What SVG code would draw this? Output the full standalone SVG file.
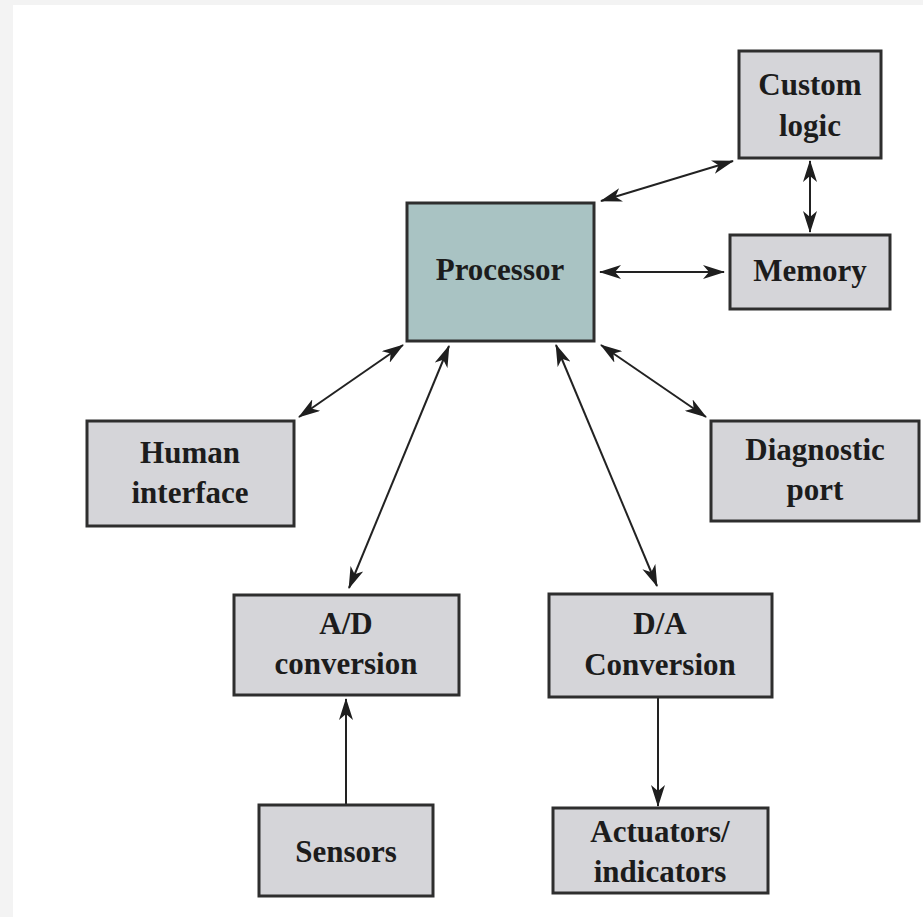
<svg xmlns="http://www.w3.org/2000/svg" width="923" height="917" viewBox="0 0 923 917">
  <defs>
    <marker id="arrow" viewBox="0 0 22 14" markerWidth="22" markerHeight="14" refX="21" refY="7" markerUnits="userSpaceOnUse" orient="auto-start-reverse">
      <path d="M0,0 L22,7 L0,14 L6,7 z" fill="#1e1e1e"/>
    </marker>
  </defs>
  <style>
    .box { fill: #d5d5d9; stroke: #2e2e2e; stroke-width: 3; }
    .cpu { fill: #a9c3c3; stroke: #2e2e2e; stroke-width: 3; }
    .lbl { font-family: "Liberation Serif", "Times New Roman", serif; font-weight: bold; font-size: 31px; fill: #1c1c1c; text-anchor: middle; }
    .link { stroke: #222; stroke-width: 2; fill: none; }
    .both { marker-start: url(#arrow); marker-end: url(#arrow); }
    .fwd { marker-end: url(#arrow); }
  </style>

  <!-- page background -->
  <rect x="0" y="0" width="923" height="917" fill="#f3f3f3"/>
  <rect x="13" y="5" width="910" height="912" fill="#ffffff"/>

  <g id="connectors">
    <line class="link both" x1="601" y1="201" x2="733" y2="161"/>
    <line class="link both" x1="810" y1="161" x2="810" y2="232"/>
    <line class="link both" x1="600" y1="272" x2="724" y2="272"/>
    <line class="link both" x1="403" y1="345" x2="299" y2="417"/>
    <line class="link both" x1="449" y1="346" x2="349" y2="588"/>
    <line class="link both" x1="556" y1="345" x2="657" y2="586"/>
    <line class="link both" x1="601" y1="345" x2="706" y2="417"/>
    <line class="link fwd" x1="346" y1="804" x2="346" y2="699"/>
    <line class="link fwd" x1="658" y1="698" x2="658" y2="806"/>
  </g>

  <g id="custom-logic">
    <rect class="box" x="739" y="51" width="142" height="107"/>
    <text class="lbl" x="810" y="95">Custom</text>
    <text class="lbl" x="810" y="136">logic</text>
  </g>

  <g id="memory">
    <rect class="box" x="730" y="235" width="160" height="74"/>
    <text class="lbl" x="810" y="281">Memory</text>
  </g>

  <g id="processor">
    <rect class="cpu" x="407" y="203" width="187" height="138"/>
    <text class="lbl" x="500" y="280">Processor</text>
  </g>

  <g id="human-interface">
    <rect class="box" x="87" y="421" width="207" height="105"/>
    <text class="lbl" x="190" y="463">Human</text>
    <text class="lbl" x="190" y="503">interface</text>
  </g>

  <g id="diagnostic-port">
    <rect class="box" x="711" y="421" width="208" height="100"/>
    <text class="lbl" x="815" y="460">Diagnostic</text>
    <text class="lbl" x="815" y="500">port</text>
  </g>

  <g id="ad-conversion">
    <rect class="box" x="234" y="595" width="225" height="100"/>
    <text class="lbl" x="346" y="634">A/D</text>
    <text class="lbl" x="346" y="674">conversion</text>
  </g>

  <g id="da-conversion">
    <rect class="box" x="549" y="594" width="223" height="103"/>
    <text class="lbl" x="660" y="634">D/A</text>
    <text class="lbl" x="660" y="675">Conversion</text>
  </g>

  <g id="sensors">
    <rect class="box" x="259" y="805" width="174" height="91"/>
    <text class="lbl" x="346" y="862">Sensors</text>
  </g>

  <g id="actuators">
    <rect class="box" x="553" y="808" width="215" height="85"/>
    <text class="lbl" x="660" y="842">Actuators/</text>
    <text class="lbl" x="660" y="882">indicators</text>
  </g>
</svg>
